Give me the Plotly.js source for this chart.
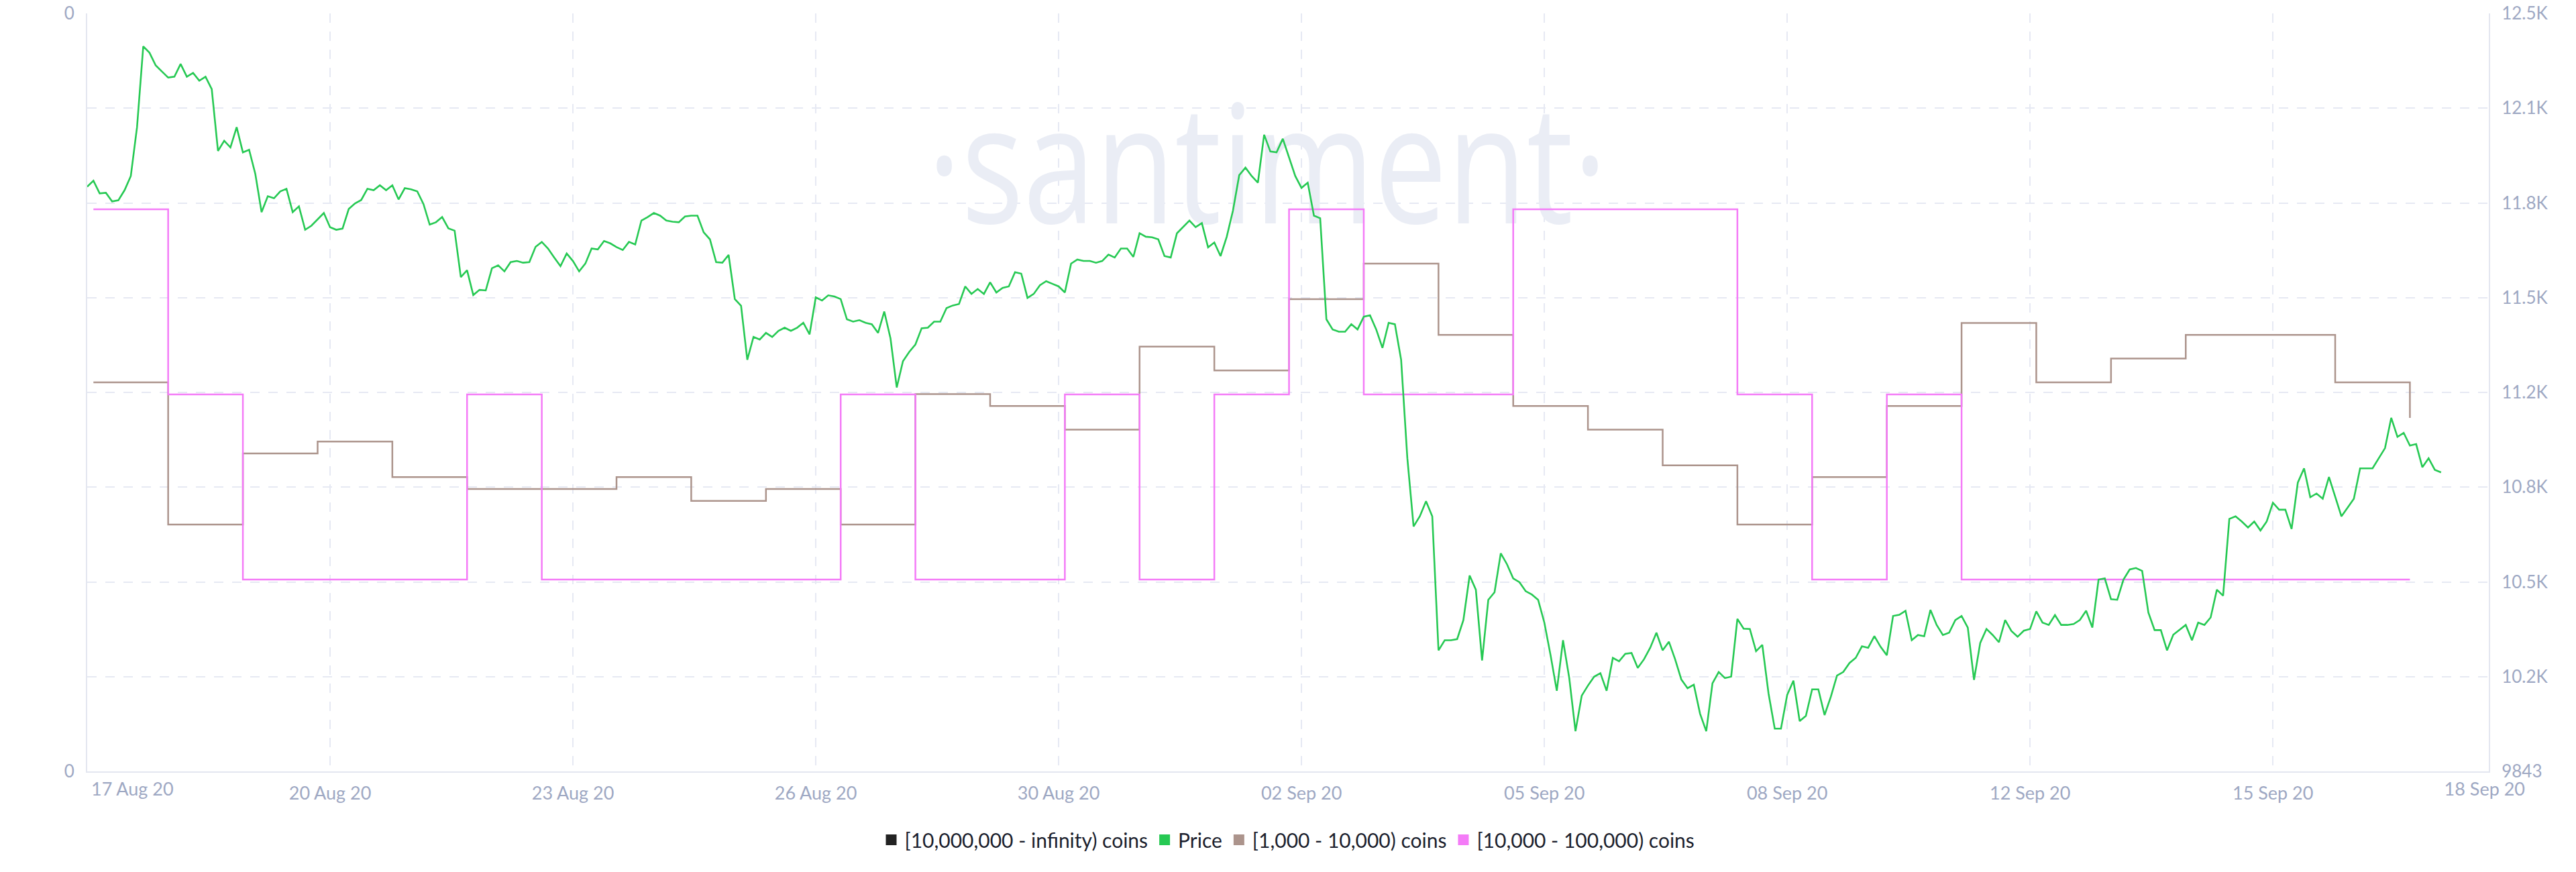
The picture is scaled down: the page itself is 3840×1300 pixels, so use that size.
<!DOCTYPE html>
<html>
<head>
<meta charset="utf-8">
<script src="https://cdn.plot.ly/plotly-3.0.1.min.js"></script>
<style>
  html, body { margin: 0; padding: 0; background: #ffffff; }
  #chart { width: 3840px; height: 1300px; }
</style>
</head>
<body>
<div id="chart"></div>
<script>
// ---------------- DATA ----------------
// BTC price, sampled every 2 hours starting 2020-08-16 22:00 UTC
const priceStart = '2020-08-16T22:00:00Z';
const priceStepHours = 2;
const priceValues = [
  11867, 11888, 11844, 11846, 11816, 11820, 11855, 11904, 12073, 12353,
  12331, 12287, 12266, 12245, 12248, 12292, 12248, 12261, 12234, 12248,
  12205, 11991, 12026, 12003, 12073, 11986, 11995, 11911, 11779, 11834,
  11827, 11851, 11860, 11779, 11799, 11718, 11732, 11753, 11776, 11727,
  11718, 11722, 11790, 11809, 11821, 11860, 11855, 11872, 11855, 11872,
  11823, 11862, 11858, 11851, 11807, 11736, 11744, 11762, 11723, 11715,
  11554, 11578, 11492, 11510, 11508, 11585, 11595, 11574, 11606, 11610,
  11604, 11606, 11659, 11676, 11653, 11622, 11592, 11636,
  11610, 11574, 11601, 11653, 11650, 11679, 11671, 11658, 11648, 11676,
  11667, 11750, 11762, 11776, 11767, 11750, 11746, 11744, 11764, 11767,
  11767, 11709, 11685, 11606, 11604, 11631, 11478, 11455, 11268, 11347,
  11338, 11361, 11347, 11368, 11379, 11368, 11379, 11396, 11356, 11484,
  11473, 11491, 11487, 11478, 11408, 11400, 11405, 11396, 11391, 11361,
  11435, 11342, 11172, 11263, 11295, 11321, 11377, 11379, 11400, 11400,
  11447, 11456, 11461, 11522, 11496, 11513, 11496, 11536, 11501, 11517,
  11522, 11571, 11566, 11482, 11496, 11526, 11540, 11531,
  11522, 11501, 11601, 11615, 11610, 11610, 11604, 11610, 11632, 11622,
  11653, 11653, 11624, 11706, 11694, 11692, 11685, 11627, 11622, 11706,
  11729, 11750, 11727, 11741, 11657, 11674, 11627, 11694, 11785, 11907,
  11933, 11904, 11881, 12047, 11989, 11986, 12033, 11968, 11904, 11863,
  11881, 11767, 11758, 11408, 11373, 11365, 11365, 11391, 11373, 11417,
  11422, 11373, 11309, 11396, 11391, 11268, 10927, 10691, 10726, 10778,
  10726, 10262, 10297, 10297, 10301, 10367, 10521, 10472, 10227, 10437,
  10463, 10598, 10560, 10511, 10498, 10467, 10455,
  10437, 10358, 10245, 10122, 10297, 10166, 9982, 10105, 10140, 10171,
  10183, 10122, 10236, 10224, 10250, 10253, 10201, 10231, 10271, 10323,
  10262, 10292, 10231, 10161, 10131, 10143, 10043, 9982, 10148, 10187,
  10166, 10171, 10371, 10337, 10336, 10259, 10281, 10113, 9991, 9991,
  10108, 10157, 10017, 10035, 10127, 10127, 10038, 10101, 10175, 10187,
  10218, 10236, 10276, 10271, 10311, 10274, 10245, 10381, 10385, 10399,
  10297, 10315, 10311, 10402, 10350, 10315, 10323, 10367, 10381, 10341,
  10160, 10288, 10336, 10315, 10290, 10367, 10329, 10309,
  10330, 10336, 10397, 10358, 10350, 10384, 10350, 10350, 10353, 10367,
  10399, 10341, 10507, 10511, 10439, 10437, 10507, 10542, 10547, 10537,
  10393, 10332, 10332, 10262, 10316, 10332, 10350, 10297, 10358, 10350,
  10376, 10472, 10451, 10717, 10726, 10708, 10687, 10708, 10677, 10708,
  10773, 10749, 10749, 10682, 10843, 10892, 10792, 10805, 10787, 10862,
  10796, 10726, 10756, 10787, 10892, 10892, 10892, 10927, 10962, 11067,
  11001, 11015, 10971, 10976, 10896, 10927, 10887, 10878
];

// Daily holder counts (addresses) per balance band
const holderDays = [
  '2020-08-17','2020-08-18','2020-08-19','2020-08-20','2020-08-21','2020-08-22','2020-08-23','2020-08-24',
  '2020-08-25','2020-08-26','2020-08-27','2020-08-28','2020-08-29','2020-08-30','2020-08-31','2020-09-01',
  '2020-09-02','2020-09-03','2020-09-04','2020-09-05','2020-09-06','2020-09-07','2020-09-08','2020-09-09',
  '2020-09-10','2020-09-11','2020-09-12','2020-09-13','2020-09-14','2020-09-15','2020-09-16','2020-09-17'
];
const coins1kTo10k = [
  2112, 2100, 2106, 2107, 2104, 2103, 2103, 2104,
  2102, 2103, 2100, 2111, 2110, 2108, 2115, 2113,
  2119, 2122, 2116, 2110, 2108, 2105, 2100, 2104,
  2110, 2117, 2112, 2114, 2116, 2116, 2112, 2109
];
const coins10kTo100k = [
  104, 103, 102, 102, 102, 103, 102, 102,
  102, 102, 103, 102, 102, 103, 102, 103,
  104, 103, 103, 104, 104, 104, 103, 102,
  103, 102, 102, 102, 102, 102, 102, 102
];
const coins10mToInf = [];   // no values drawn in the reference

// Axis ticks
const xStart = '2020-08-16 22:00';
const xEnd = '2020-09-18 01:20';
const xTickDates = ['2020-08-20 04:00','2020-08-23 10:00','2020-08-26 16:00','2020-08-29 22:00',
  '2020-09-02 04:00','2020-09-05 10:00','2020-09-08 16:00','2020-09-11 22:00','2020-09-15 04:00'];
const xTickLabels = ['20 Aug 20','23 Aug 20','26 Aug 20','30 Aug 20','02 Sep 20','05 Sep 20','08 Sep 20','12 Sep 20','15 Sep 20'];
const edgeTickDates = ['2020-08-17 12:30','2020-09-18 00:00'];
const edgeTickLabels = ['17 Aug 20','18 Sep 20'];
const priceRange = [9843, 12467];
const priceTickValues = [9843, 10171, 10499, 10827, 11155, 11483, 11811, 12139, 12467];
const priceTickLabels = ['9843','10.2K','10.5K','10.8K','11.2K','11.5K','11.8K','12.1K','12.5K'];
const watermarkText = '·santiment·';

// ---------------- BUILD ----------------
function pad(n){ return (n < 10 ? '0' : '') + n; }
function fmt(ms){
  const d = new Date(ms);
  return d.getUTCFullYear() + '-' + pad(d.getUTCMonth()+1) + '-' + pad(d.getUTCDate()) + ' ' +
         pad(d.getUTCHours()) + ':' + pad(d.getUTCMinutes());
}
const t0 = Date.parse(priceStart);
const priceTimes = priceValues.map((_, i) => fmt(t0 + i * priceStepHours * 3600e3));

const GREEN = '#26c953', BROWN = '#ac948c', PINK = '#f47bf7', BLACK = '#222222';
const axisColor = '#e3e6f0', gridColor = '#e6e9f3', tickColor = '#9ea8c3';
const xTickFont = { family: 'Lato, sans-serif', size: 27, color: tickColor };
const yTickFont = { family: 'Lato, sans-serif', size: 26, color: tickColor };

const traces = [
  { // watermark, behind everything
    x: ['2020-09-01 17:00'], y: [0.777], xaxis: 'x', yaxis: 'y',
    mode: 'text', text: [watermarkText], textposition: 'middle center',
    textfont: { family: 'Open Sans, sans-serif', size: 245, color: '#eaedf5' },
    showlegend: false, hoverinfo: 'skip', name: 'watermark'
  },
  { x: holderDays, y: coins1kTo10k, xaxis: 'x', yaxis: 'y2', mode: 'lines',
    line: { color: BROWN, width: 2.5, shape: 'hv' }, name: '[1,000 - 10,000) coins', showlegend: false },
  { x: holderDays, y: coins10kTo100k, xaxis: 'x', yaxis: 'y3', mode: 'lines',
    line: { color: PINK, width: 2.5, shape: 'hv' }, name: '[10,000 - 100,000) coins', showlegend: false },
  { x: priceTimes, y: priceValues, xaxis: 'x', yaxis: 'y4', mode: 'lines',
    line: { color: GREEN, width: 2.6 }, name: 'Price', showlegend: false },
  { x: coins10mToInf.map((_, i) => holderDays[i]), y: coins10mToInf, xaxis: 'x2', yaxis: 'y', mode: 'lines',
    line: { color: BLACK, width: 2.5 }, name: '[10,000,000 - infinity) coins', showlegend: false },
  // legend keys
  { x: [null], y: [null], mode: 'markers', marker: { symbol: 'square', size: 18, color: BLACK }, name: '[10,000,000 - infinity) coins' },
  { x: [null], y: [null], mode: 'markers', marker: { symbol: 'square', size: 18, color: GREEN }, name: 'Price' },
  { x: [null], y: [null], mode: 'markers', marker: { symbol: 'square', size: 18, color: BROWN }, name: '[1,000 - 10,000) coins' },
  { x: [null], y: [null], mode: 'markers', marker: { symbol: 'square', size: 18, color: PINK }, name: '[10,000 - 100,000) coins' }
];

const layout = {
  width: 3840, height: 1300,
  margin: { l: 130, r: 130, t: 20, b: 150 },
  paper_bgcolor: '#ffffff', plot_bgcolor: '#ffffff',
  showlegend: true,
  legend: {
    orientation: 'h', x: 0.5, xanchor: 'center', y: -0.0903, yanchor: 'middle',
    font: { family: 'Lato, sans-serif', size: 30, color: '#1c1f2e' },
    traceorder: 'normal', bgcolor: 'rgba(0,0,0,0)'
  },
  xaxis: {
    type: 'date', range: [xStart, xEnd], tickmode: 'array', tickvals: xTickDates, ticktext: xTickLabels,
    showgrid: true, gridcolor: gridColor, gridwidth: 2, griddash: '14px,13px',
    showline: true, linecolor: axisColor, linewidth: 2, zeroline: false,
    ticks: '', tickfont: xTickFont, ticklabelstandoff: 8, fixedrange: true
  },
  xaxis2: {
    type: 'date', overlaying: 'x', anchor: 'y', side: 'bottom', range: [xStart, xEnd],
    tickmode: 'array', tickvals: edgeTickDates, ticktext: edgeTickLabels,
    showgrid: false, showline: false, zeroline: false, ticks: '', tickfont: xTickFont,
    ticklabelstandoff: 8, ticklabeloverflow: 'allow', fixedrange: true
  },
  yaxis: {
    range: [0, 1], tickmode: 'array', tickvals: [0, 1], ticktext: ['0', '0'],
    showgrid: false, zeroline: false, showline: true, linecolor: axisColor, linewidth: 2,
    ticks: '', tickfont: yTickFont, ticklabelstandoff: 12, fixedrange: true
  },
  yaxis2: { overlaying: 'y', visible: false, range: [2079.19, 2143.10], fixedrange: true },
  yaxis3: { overlaying: 'y', visible: false, range: [100.964, 105.058], fixedrange: true },
  yaxis4: {
    overlaying: 'y', side: 'right', range: priceRange, tickmode: 'array',
    tickvals: priceTickValues, ticktext: priceTickLabels,
    showgrid: true, gridcolor: gridColor, gridwidth: 2, griddash: '14px,13px',
    showline: true, linecolor: axisColor, linewidth: 2, zeroline: false,
    ticks: '', tickfont: yTickFont, ticklabelstandoff: 12, fixedrange: true
  }
};

Plotly.newPlot('chart', traces, layout, { displayModeBar: false, staticPlot: true }).then(gd => {
  // the santiment watermark is horizontally condensed
  gd.querySelectorAll('.textpoint text').forEach(t => {
    if (t.textContent === watermarkText) {
      t.style.transformBox = 'fill-box';
      t.style.transformOrigin = 'center';
      t.style.transform = 'scaleX(0.79)';
    }
  });
});
</script>
</body>
</html>
